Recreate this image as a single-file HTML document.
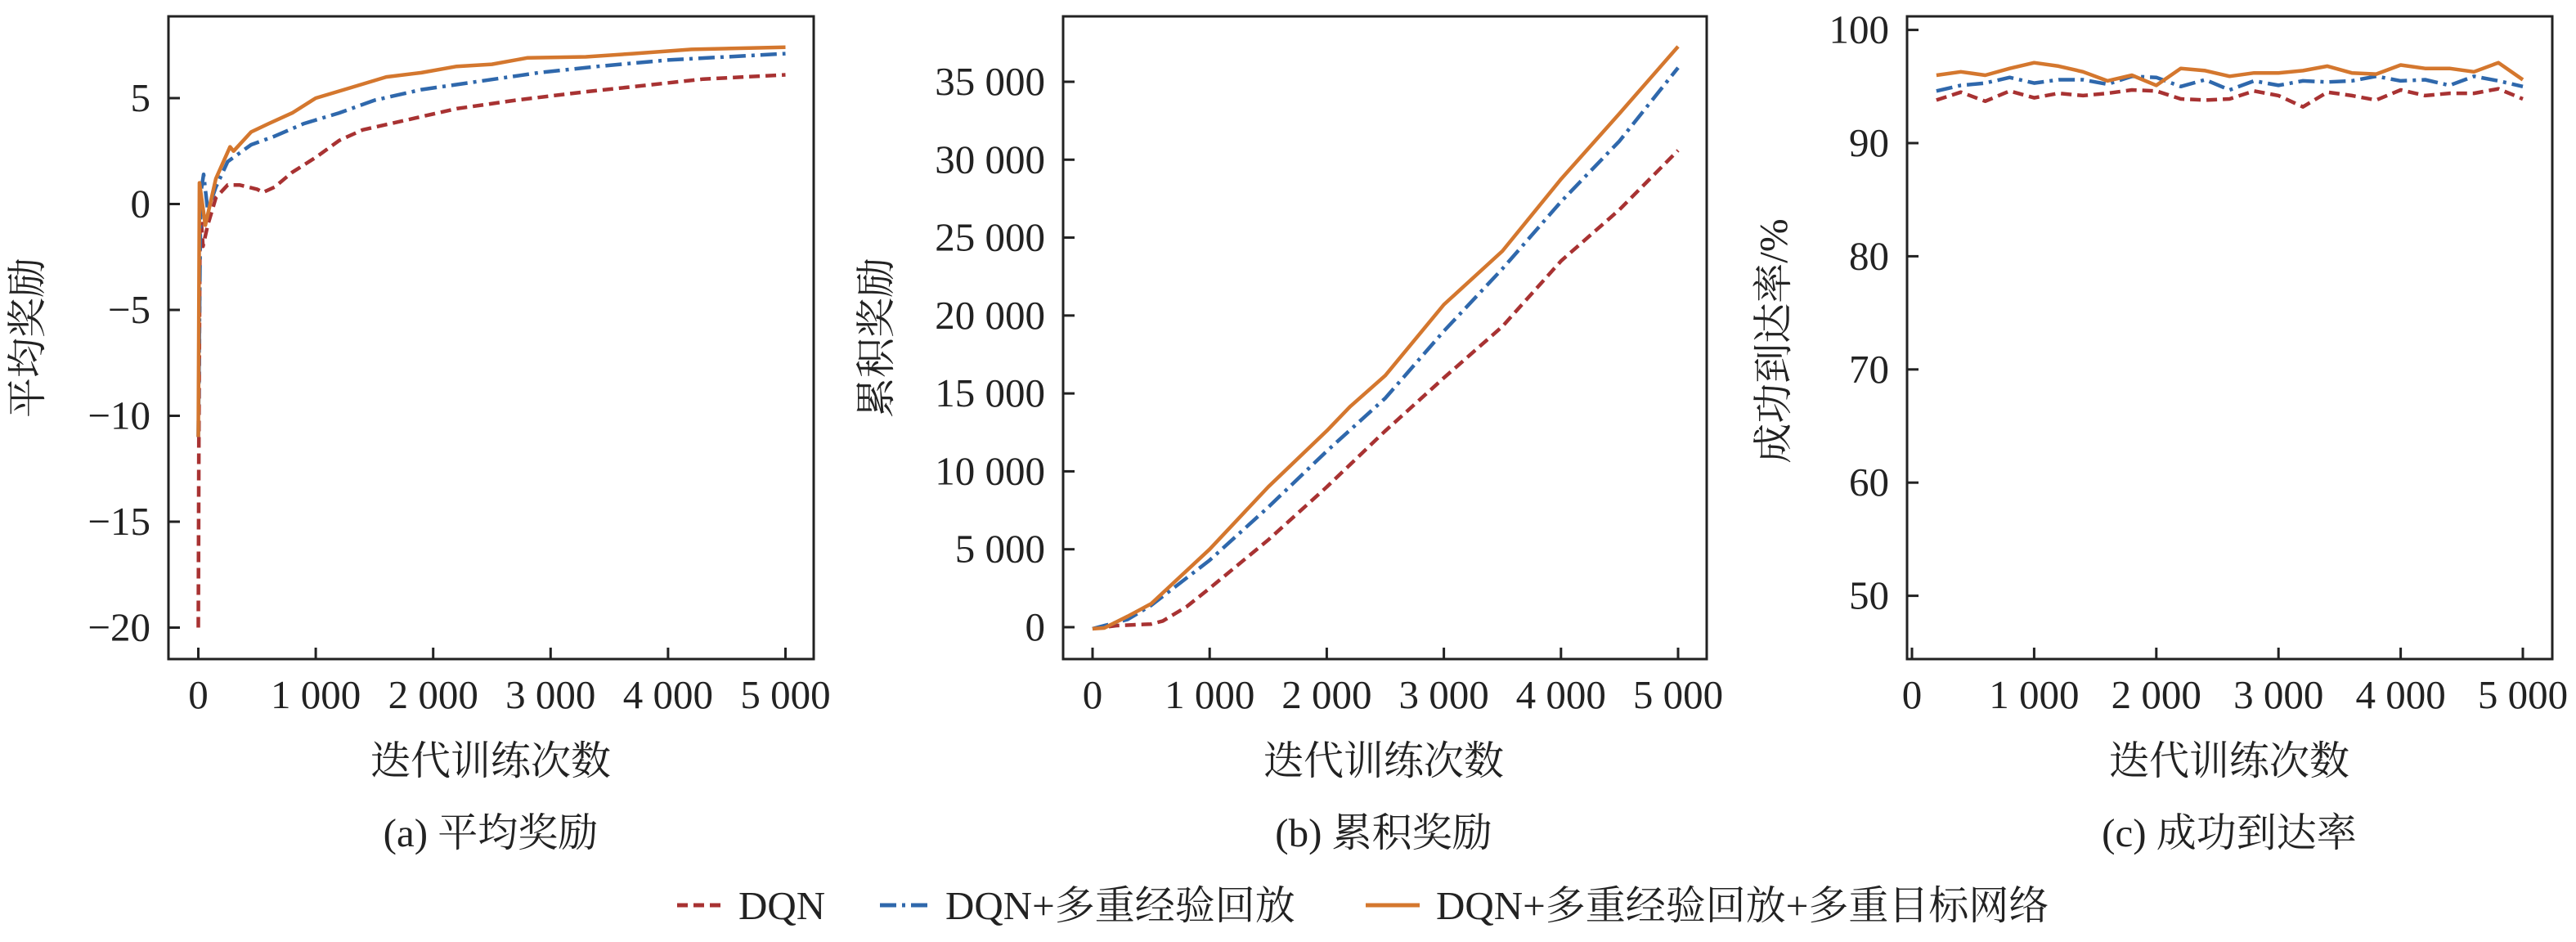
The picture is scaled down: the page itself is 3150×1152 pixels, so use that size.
<!DOCTYPE html>
<html><head><meta charset="utf-8"><style>
html,body{margin:0;padding:0;background:#fff;}
svg{display:block;}
text{font-family:"Liberation Serif","Noto Serif CJK SC","Noto Sans CJK SC",serif;fill:#222;}
</style></head><body>
<svg id="fig" width="3150" height="1152" viewBox="0 0 3150 1152" xmlns="http://www.w3.org/2000/svg"></svg>
<script>
// ---- Chart (a) average reward ----
const aDqnX = [0,5,15,40,80,150,250,350,500,550,650,800,1000,1200,1400,1800,2200,2700,3300,3800,4300,5000];
const aDqnY = [-20,-11,0,-2,-1,0.3,0.9,0.9,0.7,0.55,0.8,1.5,2.2,3,3.5,4,4.5,4.9,5.3,5.6,5.9,6.1];
const aMerX = [0,20,45,80,150,250,450,650,900,1200,1500,1900,2400,2900,3400,4000,5000];
const aMerY = [-11,0.5,1.4,-0.3,0.8,2,2.8,3.2,3.8,4.3,4.9,5.4,5.8,6.2,6.5,6.8,7.1];
const aFullX = [0,10,60,150,270,300,450,600,800,1000,1300,1600,1900,2200,2500,2800,3300,3700,4200,5000];
const aFullY = [-11,1,-1,1.2,2.7,2.5,3.4,3.8,4.3,5.0,5.5,6.0,6.2,6.5,6.6,6.9,6.95,7.1,7.3,7.4];
// ---- Chart (b) cumulative reward ----
const bDqnX = [0,200,500,600,800,1000,1500,2000,2500,3000,3500,4000,4500,5000];
const bDqnY = [-100,100,200,400,1300,2500,5600,9000,12600,16000,19300,23500,26800,30600];
const bMerX = [0,300,500,1000,1500,2000,2500,3000,3500,4000,4500,5000];
const bMerY = [-100,500,1400,4300,7700,11300,14700,19000,23000,27300,31200,35900];
const bFullX = [0,100,300,500,1000,1500,2000,2200,2500,3000,3500,4000,4500,5000];
const bFullY = [-100,-50,700,1500,5000,9000,12600,14160,16150,20700,24140,28750,32970,37260];
// ---- Chart (c) success rate ----
const cX = [200,400,600,800,1000,1200,1400,1600,1800,2000,2200,2400,2600,2800,3000,3200,3400,3600,3800,4000,4200,4400,4600,4800,5000];
const cDqn = [93.8,94.5,93.7,94.6,94.0,94.4,94.2,94.4,94.7,94.6,93.9,93.8,93.9,94.6,94.2,93.2,94.5,94.2,93.8,94.7,94.2,94.4,94.4,94.8,93.9];
const cMer = [94.6,95.1,95.3,95.8,95.3,95.6,95.6,95.2,95.9,95.8,95.0,95.6,94.7,95.5,95.1,95.5,95.4,95.5,95.9,95.5,95.6,95.1,95.9,95.5,95.0];
const cFull = [96.0,96.3,96.0,96.6,97.1,96.8,96.3,95.5,96.0,95.1,96.6,96.4,95.9,96.2,96.2,96.4,96.8,96.2,96.1,96.9,96.6,96.6,96.3,97.1,95.6];
const xTicks = [0,1000,2000,3000,4000,5000];
const xTickLabels = ["0","1 000","2 000","3 000","4 000","5 000"];
const aYTicks = [5,0,-5,-10,-15,-20];
const aYTickLabels = ["5","0","\u22125","\u221210","\u221215","\u221220"];
const bYTicks = [0,5000,10000,15000,20000,25000,30000,35000];
const bYTickLabels = ["0","5 000","10 000","15 000","20 000","25 000","30 000","35 000"];
const cYTicks = [50,60,70,80,90,100];
const cYTickLabels = ["50","60","70","80","90","100"];

const NS="http://www.w3.org/2000/svg";
const svg=document.getElementById('fig');
function mk(tag,attrs,parent){const e=document.createElementNS(NS,tag);for(const k in attrs)e.setAttribute(k,attrs[k]);(parent||svg).appendChild(e);return e;}
const COL={dqn:"#a83232",mer:"#2f68ac",full:"#d4772e"};
const DASH={dqn:"13,7",mer:"20,7,4,7",full:"none"};

function chart(cfg){
  const g=mk('g',{});
  
  
  const X=v=>cfg.x0+(v-0)*(cfg.x1-cfg.x0)/5000;
  const Y=v=>cfg.y0+(v-cfg.v0)*(cfg.y1-cfg.y0)/(cfg.v1-cfg.v0);
  cfg.series.forEach(s=>{
    let d='';
    s.xs.forEach((x,i)=>{d+=(i?'L':'M')+X(x).toFixed(1)+','+Y(s.ys[i]).toFixed(1);});
    const p=mk('path',{d:d,fill:'none',stroke:COL[s.k],'stroke-width':4.5,'stroke-linejoin':'round','stroke-dasharray':DASH[s.k]},g);
    
    
  });
  const r=mk('rect',{x:cfg.L,y:20,width:cfg.R-cfg.L,height:786,fill:'none',stroke:'#222','stroke-width':3},g);
  
  
  xTicks.forEach((t,i)=>{
    mk('line',{x1:X(t),x2:X(t),y1:806,y2:792,stroke:'#222','stroke-width':3},g);
    const tx=mk('text',{x:X(t),y:866,'font-size':49,'text-anchor':'middle'},g);
    tx.textContent=xTickLabels[i];
    
    
  });
  cfg.yt.forEach((t,i)=>{
    mk('line',{x1:cfg.L,x2:cfg.L+14,y1:Y(t),y2:Y(t),stroke:'#222','stroke-width':3},g);
    const tx=mk('text',{x:cfg.L-22,y:Y(t)+16,'font-size':49,'text-anchor':'end'},g);
    tx.textContent=cfg.yl[i];
    
    
  });
  const xl=mk('text',{x:cfg.xc,y:947,'font-size':49,'text-anchor':'middle'},g);
  xl.textContent='迭代训练次数';
  
  
  const cap=mk('text',{x:cfg.xc,y:1035,'font-size':49,'text-anchor':'middle'},g);
  cap.textContent=cfg.cap;
  
  
  const yl=mk('text',{x:0,y:0,'font-size':49,'text-anchor':'middle',transform:`translate(${cfg.ytx},${cfg.yty}) rotate(-90)`},g);
  yl.textContent=cfg.ytitle;
  
  
}
chart({name:'chart-average-reward',L:206,R:995,x0:242.5,x1:960.5,y0:249.5,v0:0,y1:120,v1:5,yt:aYTicks,yl:aYTickLabels,xc:600,cap:'(a) 平均奖励',ytitle:'平均奖励',ytx:50,yty:413,
  series:[{k:'dqn',xs:aDqnX,ys:aDqnY},{k:'mer',xs:aMerX,ys:aMerY},{k:'full',xs:aFullX,ys:aFullY}]});
chart({name:'chart-cumulative-reward',L:1300,R:2087,x0:1336,x1:2052,y0:767,v0:0,y1:100,v1:35000,yt:bYTicks,yl:bYTickLabels,xc:1692,cap:'(b) 累积奖励',ytitle:'累积奖励',ytx:1088,yty:413,
  series:[{k:'dqn',xs:bDqnX,ys:bDqnY},{k:'mer',xs:bMerX,ys:bMerY},{k:'full',xs:bFullX,ys:bFullY}]});
chart({name:'chart-success-rate',L:2332,R:3121,x0:2338,x1:3085,y0:728.6,v0:50,y1:36.6,v1:100,yt:cYTicks,yl:cYTickLabels,xc:2726,cap:'(c) 成功到达率',ytitle:'成功到达率/%',ytx:2185,yty:417,
  series:[{k:'dqn',xs:cX,ys:cDqn},{k:'mer',xs:cX,ys:cMer},{k:'full',xs:cX,ys:cFull}]});

const leg=mk('g',{});


[{k:'dqn',x1:828,x2:888,tx:903,t:'DQN'},{k:'mer',x1:1076,x2:1136,tx:1156,t:'DQN+多重经验回放'},{k:'full',x1:1670,x2:1736,tx:1756,t:'DQN+多重经验回放+多重目标网络'}].forEach(e=>{
  const it=mk('g',{},leg);
  
  
  mk('line',{x1:e.x1,x2:e.x2,y1:1107,y2:1107,stroke:COL[e.k],'stroke-width':5,'stroke-dasharray':DASH[e.k]},it);
  const t=mk('text',{x:e.tx,y:1124,'font-size':49},it);
  t.textContent=e.t;
});
</script>
</body></html>
